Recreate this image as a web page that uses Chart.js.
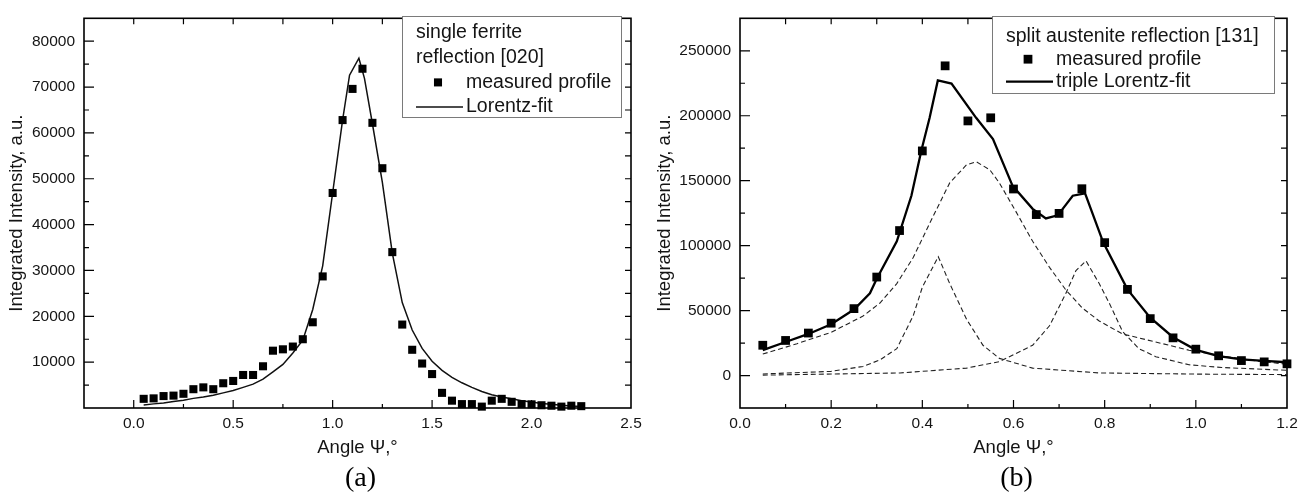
<!DOCTYPE html>
<html>
<head>
<meta charset="utf-8">
<script src="https://cdn.jsdelivr.net/npm/chart.js@4.4.0/dist/chart.umd.min.js"></script>
<style>
    html, body { margin: 0; padding: 0; background: #fff; }
    .panel { position: absolute; top: 0; width: 652px; height: 502px; }
</style>
</head>
<body>
<div class="panel" style="left:0"><canvas id="ferriteChart"></canvas></div>
<div class="panel" style="left:652px"><canvas id="austeniteChart"></canvas></div>
<script>
// (a) single ferrite reflection [020]
const ferriteAngle = [0.05, 0.10, 0.15, 0.20, 0.25, 0.30, 0.35, 0.40, 0.45, 0.50, 0.55, 0.60, 0.65, 0.70, 0.75,
    0.80, 0.85, 0.90, 0.95, 1.00, 1.05, 1.10, 1.15, 1.20, 1.25, 1.30, 1.35, 1.40, 1.45, 1.50,
    1.55, 1.60, 1.65, 1.70, 1.75, 1.80, 1.85, 1.90, 1.95, 2.00, 2.05, 2.10, 2.15, 2.20, 2.25];
const ferriteMeasured = [2000, 2100, 2600, 2700, 3100, 4100, 4500, 4100, 5400, 5900, 7200, 7200, 9100, 12500, 12800,
    13400, 15000, 18700, 28700, 46900, 62800, 69600, 74000, 62200, 52300, 34000, 18200, 12700, 9700, 7400,
    3300, 1600, 850, 850, 300, 1600, 2000, 1350, 850, 800, 600, 500, 300, 500, 400];
const ferriteFitAngle = [0.05, 0.10, 0.15, 0.20, 0.25, 0.30, 0.35, 0.40, 0.45, 0.50, 0.55, 0.60, 0.65, 0.70, 0.75,
    0.80, 0.85, 0.90, 0.95, 1.00, 1.05, 1.085, 1.132, 1.16, 1.20, 1.25, 1.30, 1.35, 1.40, 1.45, 1.50,
    1.55, 1.60, 1.65, 1.70, 1.75, 1.80, 1.85, 1.90, 1.95, 2.00, 2.05, 2.10, 2.15, 2.20, 2.25];
const ferriteFit = [650, 900, 1100, 1400, 1700, 2100, 2400, 2800, 3300, 3800, 4500, 5200, 6300, 7900, 9500,
    12000, 14800, 21500, 31000, 46900, 62800, 72600, 76300, 71900, 62000, 49200, 33800, 23000, 17000, 13000, 10200,
    8200, 6700, 5500, 4500, 3600, 2900, 2400, 2000, 1600, 1300, 1000, 800, 600, 450, 350];

// (b) split austenite reflection [131]
const austeniteAngle = [0.05, 0.10, 0.15, 0.20, 0.25, 0.30, 0.35, 0.40, 0.45, 0.50, 0.55, 0.60,
    0.65, 0.70, 0.75, 0.80, 0.85, 0.90, 0.95, 1.00, 1.05, 1.10, 1.15, 1.20];
const austeniteMeasured = [23300, 27000, 32700, 40300, 51500, 75800, 111600, 172900, 238400, 196000, 198400, 143600,
    123900, 124800, 143800, 102300, 66300, 43800, 29000, 20300, 15200, 11500, 10500, 9000];
const tripleFitAngle = [0.05, 0.10, 0.15, 0.20, 0.25, 0.285, 0.30, 0.344, 0.376, 0.398, 0.416, 0.434, 0.464, 0.518, 0.555,
    0.598, 0.642, 0.671, 0.697, 0.73, 0.757, 0.797, 0.85, 0.90, 0.95, 1.00, 1.05, 1.10, 1.15, 1.20];
const tripleFit = [19500, 25800, 32000, 39500, 50800, 63300, 74500, 103300, 138400, 173400, 198400, 227200, 224700, 198400, 182100,
    146000, 128300, 120900, 123300, 138400, 140300, 102300, 66300, 44500, 29500, 19800, 15000, 12500, 11200, 10200];
const broadPeakAngle = [0.05, 0.125, 0.20, 0.27, 0.307, 0.344, 0.38, 0.416, 0.46, 0.497, 0.518, 0.548, 0.569,
    0.606, 0.642, 0.679, 0.715, 0.751, 0.788, 0.839, 0.912, 0.985, 1.057, 1.13, 1.20];
const broadPeak = [16500, 24500, 33300, 45800, 55800, 70800, 90800, 117100, 148300, 162200, 164600, 158400, 148300,
    125800, 103300, 83300, 65800, 52000, 42000, 32000, 25800, 19500, 15200, 11300, 8700];
const firstPeakAngle = [0.05, 0.20, 0.27, 0.307, 0.344, 0.38, 0.40, 0.435, 0.46, 0.497, 0.533, 0.569, 0.642, 0.788, 1.00, 1.20];
const firstPeak = [1200, 3200, 7000, 12000, 20700, 46000, 68000, 91500, 70800, 43300, 23300, 13200, 5700, 2000, 1100, 700];
const secondPeakAngle = [0.05, 0.351, 0.497, 0.569, 0.642, 0.679, 0.715, 0.737, 0.759, 0.788, 0.81, 0.839, 0.875,
    0.912, 0.985, 1.057, 1.20];
const secondPeak = [300, 2000, 5700, 10700, 23300, 38300, 63300, 80800, 88300, 70800, 55800, 34000, 20700,
    14500, 8300, 6200, 4000];

const FONT = "'Liberation Sans', Arial, sans-serif";
Chart.defaults.font.family = FONT;
Chart.defaults.color = '#141414';

const toPoints = (xs, ys) => xs.map((x, i) => ({x: x, y: ys[i]}));
const isMajor = (v, step) => Math.abs(v / step - Math.round(v / step)) < 1e-6;

// frame round the plot with inward ticks on all four sides
const frameTicks = {
    id: 'frameTicks',
    beforeDatasetsDraw(chart, args, opts) {
        const {ctx, chartArea: a} = chart;
        const x = chart.scales.x, y = chart.scales.y;
        ctx.save();
        ctx.strokeStyle = '#000';
        ctx.lineWidth = 1.2;
        ctx.beginPath();
        x.ticks.forEach(t => {
            const px = x.getPixelForValue(t.value);
            if (px < a.left + 1 || px > a.right - 1) return;
            ctx.moveTo(px, a.bottom);
            ctx.lineTo(px, a.bottom - (isMajor(t.value, opts.xMajor) ? 8 : 4));
            ctx.moveTo(px, a.top);
            ctx.lineTo(px, a.top + 6);
        });
        y.ticks.forEach(t => {
            const py = y.getPixelForValue(t.value);
            if (py < a.top + 1 || py > a.bottom - 1) return;
            ctx.moveTo(a.left, py);
            ctx.lineTo(a.left + (isMajor(t.value, opts.yMajor) ? 10 : 5), py);
            ctx.moveTo(a.right, py);
            ctx.lineTo(a.right - 6, py);
        });
        ctx.stroke();
        ctx.lineWidth = 1.6;
        ctx.strokeRect(a.left, a.top, a.right - a.left, a.bottom - a.top);
        ctx.restore();
    }
};

// boxed legend in the upper right, with heading lines
const boxLegend = {
    id: 'boxLegend',
    afterDraw(chart, args, opts) {
        const ctx = chart.ctx;
        const [bx, by, bw, bh] = opts.box;
        ctx.save();
        ctx.fillStyle = '#fff';
        ctx.fillRect(bx, by, bw, bh);
        ctx.strokeStyle = '#7a7a7a';
        ctx.lineWidth = 1;
        ctx.strokeRect(bx + 0.5, by + 0.5, bw, bh);
        ctx.font = '19.5px ' + FONT;
        ctx.fillStyle = '#141414';
        ctx.textBaseline = 'middle';
        let row = 0;
        opts.heading.forEach(t => {
            ctx.fillText(t, bx + 14, by + opts.rowStart + row * opts.rowStep);
            row++;
        });
        opts.entries.forEach(i => {
            const ds = chart.data.datasets[i];
            const cy = by + opts.rowStart + row * opts.rowStep;
            if (ds.showLine) {
                ctx.strokeStyle = ds.borderColor;
                ctx.lineWidth = ds.borderWidth;
                ctx.beginPath();
                ctx.moveTo(bx + 14, cy);
                ctx.lineTo(bx + 61, cy);
                ctx.stroke();
            } else {
                const s = ds.pointRadius * Math.SQRT1_2;
                ctx.fillStyle = ds.pointBackgroundColor;
                ctx.fillRect(bx + 36 - s, cy - s, 2 * s, 2 * s);
            }
            ctx.fillStyle = '#141414';
            ctx.fillText(ds.label, bx + 64, cy);
            row++;
        });
        ctx.restore();
    }
};

// panel caption under the axis title
const caption = {
    id: 'caption',
    afterDraw(chart, args, opts) {
        const {ctx, chartArea: a} = chart;
        ctx.save();
        ctx.font = "28px 'Liberation Serif', 'Times New Roman', serif";
        ctx.fillStyle = '#000';
        ctx.textAlign = 'center';
        ctx.textBaseline = 'middle';
        ctx.fillText(opts.text, (a.left + a.right) / 2 + 3, opts.y);
        ctx.restore();
    }
};

function axisOptions(cfg) {
    return {
        x: {
            type: 'linear',
            min: cfg.xMin,
            max: cfg.xMax,
            grid: {display: false, drawTicks: false},
            border: {display: false},
            ticks: {
                stepSize: cfg.xStep,
                autoSkip: false,
                maxRotation: 0,
                padding: 6,
                font: {size: 15.5},
                callback: v => isMajor(v, cfg.xMajor) ? v.toFixed(1) : ''
            },
            title: {display: true, text: 'Angle Ψ,°', font: {size: 18.5}, padding: {top: 0, bottom: 1}},
            afterFit: s => { s.height = 52; }
        },
        y: {
            type: 'linear',
            min: cfg.yMin,
            max: cfg.yMax,
            grid: {display: false, drawTicks: false},
            border: {display: false},
            ticks: {
                stepSize: cfg.yStep,
                autoSkip: false,
                padding: 9,
                font: {size: 15.5},
                callback: v => (isMajor(v, cfg.yMajor) && (v !== 0 || cfg.showZero)) ? String(v) : ''
            },
            title: {display: true, text: 'Integrated Intensity, a.u.', font: {size: 18.5}, padding: {top: cfg.titlePad, bottom: 0}},
            afterFit: s => { s.width = cfg.yWidth; }
        }
    };
}

const ferriteConfig = {
    type: 'scatter',
    data: {
        datasets: [{
            label: 'measured profile',
            data: toPoints(ferriteAngle, ferriteMeasured),
            showLine: false,
            pointStyle: 'rect',
            pointRadius: 5.7,
            pointBackgroundColor: '#000',
            pointBorderColor: '#000',
            pointBorderWidth: 0,
            clip: false
        }, {
            label: 'Lorentz-fit',
            data: toPoints(ferriteFitAngle, ferriteFit),
            showLine: true,
            borderColor: '#111',
            borderWidth: 1.5,
            pointRadius: 0,
            tension: 0
        }]
    },
    options: {
        responsive: true,
        maintainAspectRatio: false,
        animation: false,
        events: [],
        layout: {padding: {left: 0, right: 21, top: 8, bottom: 42}},
        scales: axisOptions({xMin: -0.25, xMax: 2.5, xStep: 0.25, xMajor: 0.5,
            yMin: 0, yMax: 85000, yStep: 5000, yMajor: 10000, showZero: false, yWidth: 84, titlePad: 6}),
        plugins: {
            legend: {display: false},
            tooltip: {enabled: false},
            frameTicks: {xMajor: 0.5, yMajor: 10000},
            boxLegend: {box: [402, 16, 219, 101], heading: ['single ferrite', 'reflection [020]'],
                entries: [0, 1], rowStart: 17, rowStep: 24.7},
            caption: {text: '(a)', y: 479}
        }
    },
    plugins: [frameTicks, boxLegend, caption]
};

const dashed = (pts) => ({
    label: '',
    data: pts,
    showLine: true,
    borderColor: '#222',
    borderWidth: 1.1,
    borderDash: [5, 3],
    pointRadius: 0,
    tension: 0
});

const austeniteConfig = {
    type: 'scatter',
    data: {
        datasets: [{
            label: 'measured profile',
            data: toPoints(austeniteAngle, austeniteMeasured),
            showLine: false,
            pointStyle: 'rect',
            pointRadius: 6.2,
            pointBackgroundColor: '#000',
            pointBorderColor: '#000',
            pointBorderWidth: 0,
            clip: false
        }, {
            label: 'triple Lorentz-fit',
            data: toPoints(tripleFitAngle, tripleFit),
            showLine: true,
            borderColor: '#000',
            borderWidth: 2.3,
            pointRadius: 0,
            tension: 0
        },
        dashed(toPoints(broadPeakAngle, broadPeak)),
        dashed(toPoints(firstPeakAngle, firstPeak)),
        dashed(toPoints(secondPeakAngle, secondPeak))]
    },
    options: {
        responsive: true,
        maintainAspectRatio: false,
        animation: false,
        events: [],
        layout: {padding: {left: 0, right: 17, top: 8, bottom: 42}},
        scales: axisOptions({xMin: 0, xMax: 1.2, xStep: 0.1, xMajor: 0.2,
            yMin: -25000, yMax: 275000, yStep: 25000, yMajor: 50000, showZero: true, yWidth: 88, titlePad: 2}),
        plugins: {
            legend: {display: false},
            tooltip: {enabled: false},
            frameTicks: {xMajor: 0.2, yMajor: 50000},
            boxLegend: {box: [340, 16, 282, 77], heading: ['split austenite reflection [131]'],
                entries: [0, 1], rowStart: 20.7, rowStep: 22.5},
            caption: {text: '(b)', y: 479}
        }
    },
    plugins: [frameTicks, boxLegend, caption]
};

const ferriteChart = new Chart(document.getElementById('ferriteChart'), ferriteConfig);
const austeniteChart = new Chart(document.getElementById('austeniteChart'), austeniteConfig);
</script>
</body>
</html>
